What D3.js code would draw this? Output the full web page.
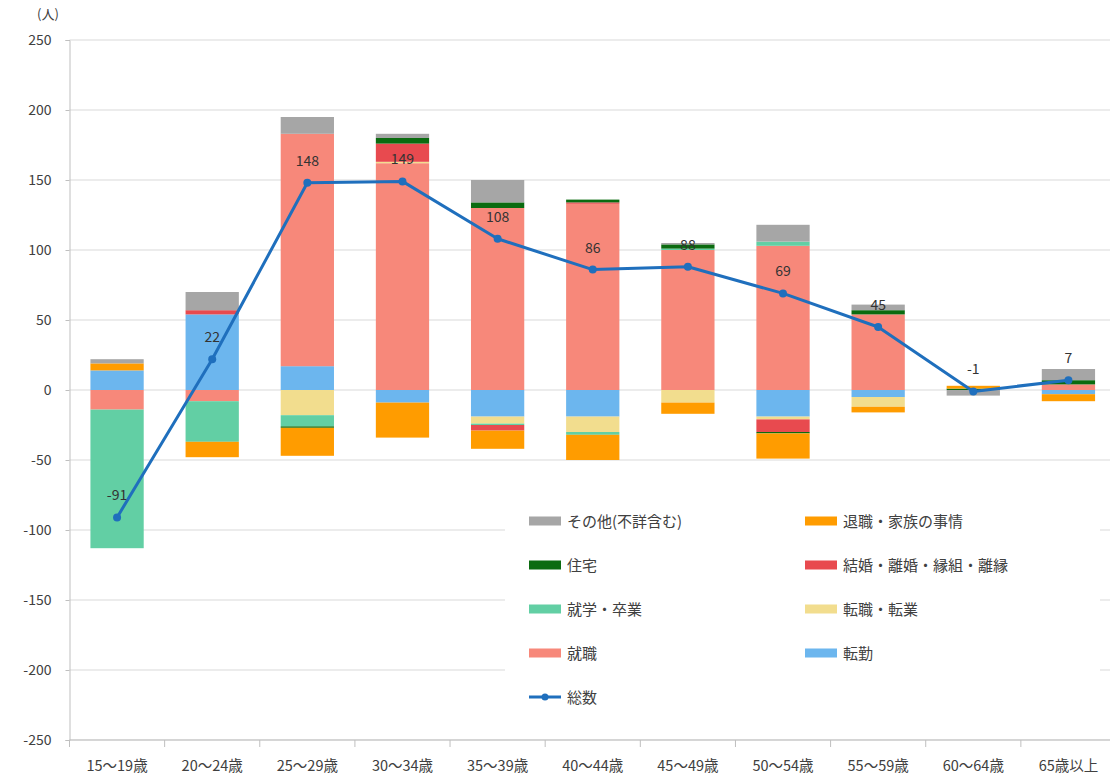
<!DOCTYPE html>
<html><head><meta charset="utf-8">
<script src="https://cdn.jsdelivr.net/npm/d3@7"></script>
<style>
html,body{margin:0;padding:0;background:#fff;}
svg{display:block;font-family:"Noto Sans CJK JP","Noto Sans",sans-serif;}
</style></head>
<body><svg id="c" width="1110" height="780"></svg>
<script>
const categories = ["15～19歳","20～24歳","25～29歳","30～34歳","35～39歳","40～44歳","45～49歳","50～54歳","55～59歳","60～64歳","65歳以上"];
const tenkin   = [14, 54, 17, -9, -19, -19, 0, -19, -5, 0, -3];   // 転勤
const shushoku = [-14, -8, 166, 162, 130, 133, 100, 103, 54, 0, 4]; // 就職
const tenshoku = [0, 0, -18, 1, -5, -11, -9, -2, -7, 0, 0];       // 転職・転業
const shugaku  = [-99, -29, -8, 0, -1, -2, 1, 3, 0, 0, 0];        // 就学・卒業
const kekkon   = [0, 3, 0, 13, -4, 1, 0, -9, 0, 0, 0];            // 結婚・離婚・縁組・離縁
const jutaku   = [0, 0, -1, 4, 4, 2, 3, -1, 3, 1, 3];             // 住宅
const taishoku = [5, -11, -20, -25, -13, -18, -8, -18, -4, 2, -5]; // 退職・家族の事情
const sonota   = [3, 13, 12, 3, 16, 0, 1, 12, 4, -4, 8];          // その他(不詳含む)
const total    = [-91, 22, 148, 149, 108, 86, 88, 69, 45, -1, 7];  // 総数
const yTicks   = [-250,-200,-150,-100,-50,0,50,100,150,200,250];

const seriesDefs = [
  {key:"転勤", values:tenkin, color:"#6cb6ee"},
  {key:"就職", values:shushoku, color:"#f7887a"},
  {key:"転職・転業", values:tenshoku, color:"#f2dd8e"},
  {key:"就学・卒業", values:shugaku, color:"#62cfa4"},
  {key:"結婚・離婚・縁組・離縁", values:kekkon, color:"#e84a4f"},
  {key:"住宅", values:jutaku, color:"#0b6b10"},
  {key:"退職・家族の事情", values:taishoku, color:"#ff9c00"},
  {key:"その他(不詳含む)", values:sonota, color:"#a6a6a6"}
];
const lineColor = "#1f6fbd";

const rows = categories.map((c,i)=>{
  const r={cat:c};
  seriesDefs.forEach(s=>r[s.key]=s.values[i]);
  return r;
});

const svg = d3.select("#c");
const pL=69.5, pR=1116, pT=40, pB=740;
const x = d3.scaleBand().domain(categories).range([pL,pR]).paddingInner(0.44).paddingOuter(0.22);
const y = d3.scaleLinear().domain([-250,250]).range([pB,pT]);

// grid
svg.append("g").selectAll("line").data(yTicks).join("line")
  .attr("x1",pL).attr("x2",pR)
  .attr("y1",d=>y(d)).attr("y2",d=>y(d))
  .attr("stroke","#d9d9d9").attr("stroke-width",1);

// y axis
const yAxis = svg.append("g").attr("transform",`translate(${pL},0)`)
  .call(d3.axisLeft(y).tickValues(yTicks).tickSize(4).tickPadding(14).tickFormat(d=>String(d)));
yAxis.select(".domain").attr("stroke","#bfbfbf");
yAxis.selectAll(".tick line").attr("stroke","#bfbfbf");
yAxis.selectAll("text").attr("fill","#404040").style("font-size","14px").style("font-family","'Noto Sans CJK JP',sans-serif");

svg.append("text").attr("x",48).attr("y",19).attr("text-anchor","middle")
  .attr("fill","#404040").style("font-size","13px").text("(人)");

// stack
const stack = d3.stack().keys(seriesDefs.map(s=>s.key)).offset(d3.stackOffsetDiverging);
const stacked = stack(rows);
svg.append("g").selectAll("g").data(stacked).join("g")
  .attr("fill",(d,i)=>seriesDefs[i].color)
  .selectAll("rect").data(d=>d).join("rect")
  .attr("x",d=>x(d.data.cat))
  .attr("width",x.bandwidth())
  .attr("y",d=>y(Math.max(d[0],d[1])))
  .attr("height",d=>Math.abs(y(d[0])-y(d[1])));

// x axis at bottom
const step = x.step();
const xg = svg.append("g");
xg.append("line").attr("x1",pL).attr("x2",pR).attr("y1",pB).attr("y2",pB)
  .attr("stroke","#bfbfbf");
xg.selectAll("line.tk").data(d3.range(categories.length+1)).join("line").attr("class","tk")
  .attr("x1",i=>pL+i*step).attr("x2",i=>pL+i*step)
  .attr("y1",pB).attr("y2",pB+7).attr("stroke","#bfbfbf");
xg.selectAll("text").data(categories).join("text")
  .attr("x",d=>x(d)+x.bandwidth()/2).attr("y",771)
  .attr("text-anchor","middle").attr("fill","#404040").style("font-size","14.5px")
  .text(d=>d);

// line
const lineGen = d3.line().x((d,i)=>x(categories[i])+x.bandwidth()/2).y(d=>y(d));
svg.append("path").datum(total).attr("d",lineGen)
  .attr("fill","none").attr("stroke",lineColor).attr("stroke-width",3).attr("stroke-linejoin","round");
svg.append("g").selectAll("circle").data(total).join("circle")
  .attr("cx",(d,i)=>x(categories[i])+x.bandwidth()/2).attr("cy",d=>y(d)).attr("r",4)
  .attr("fill",lineColor);
svg.append("g").selectAll("text").data(total).join("text")
  .attr("x",(d,i)=>x(categories[i])+x.bandwidth()/2).attr("y",d=>y(d)-17)
  .attr("text-anchor","middle").attr("fill","#333").style("font-size","14px")
  .text(d=>String(d));

// legend
const lg = svg.append("g");
lg.append("rect").attr("x",505).attr("y",497).attr("width",595).attr("height",222).attr("fill","#fff");
const legendItems = [
  {name:"その他(不詳含む)", color:"#a6a6a6"},
  {name:"退職・家族の事情", color:"#ff9c00"},
  {name:"住宅", color:"#0b6b10"},
  {name:"結婚・離婚・縁組・離縁", color:"#e84a4f"},
  {name:"就学・卒業", color:"#62cfa4"},
  {name:"転職・転業", color:"#f2dd8e"},
  {name:"就職", color:"#f7887a"},
  {name:"転勤", color:"#6cb6ee"},
  {name:"総数", color:lineColor, line:true}
];
const li = lg.selectAll("g").data(legendItems).join("g")
  .attr("transform",(d,i)=>`translate(${i%2===0?529:805},${521+Math.floor(i/2)*44})`);
li.each(function(d){
  const g=d3.select(this);
  if(d.line){
    g.append("line").attr("x1",0).attr("x2",32).attr("y1",0).attr("y2",0).attr("stroke",d.color).attr("stroke-width",3);
    g.append("circle").attr("cx",16).attr("cy",0).attr("r",3.5).attr("fill",d.color);
  } else {
    g.append("rect").attr("x",0).attr("y",-4.5).attr("width",32).attr("height",9).attr("fill",d.color);
  }
  g.append("text").attr("x",38).attr("y",5.5).attr("fill","#404040").style("font-size","15px").text(d.name);
});
</script></body></html>
